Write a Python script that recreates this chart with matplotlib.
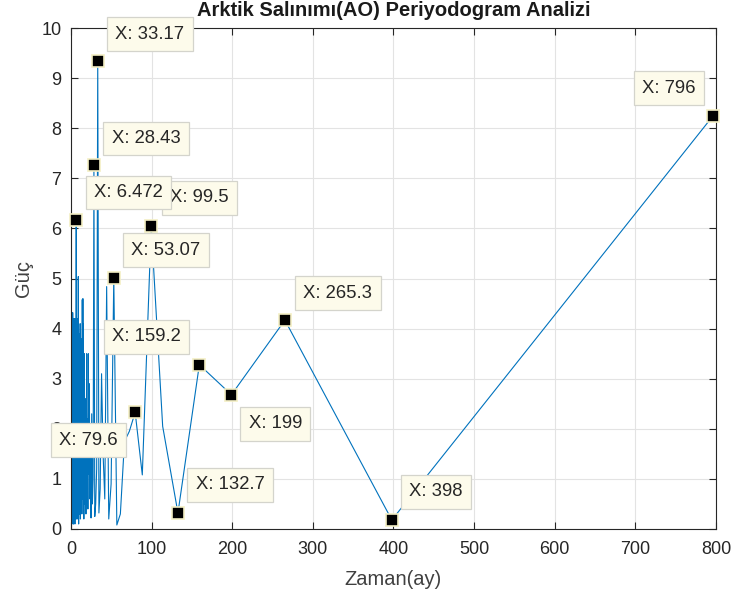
import numpy as np
import matplotlib
matplotlib.use("Agg")
import matplotlib.pyplot as plt

plt.rcParams['font.family'] = ['Liberation Sans', 'DejaVu Sans']

# periodogram power for harmonics k = 1 .. 398 of a 796-month record
n_months = 796
power = [
    8.24, 0.18, 4.17, 2.68, 3.28, 0.32, 2.05, 6.05, 1.08, 2.33,
    1.95, 1.75, 0.30, 0.08, 5.01, 0.90, 0.20, 4.84, 0.60, 1.50,
    3.10, 0.80, 0.32, 9.34, 1.20, 0.50, 0.25, 7.26, 1.00, 0.50,
    2.30, 0.22, 1.80, 0.60, 2.90, 1.10, 3.50, 0.40, 2.20, 0.90,
    3.50, 1.40, 0.30, 2.60, 0.70, 1.90, 0.50, 3.50, 1.20, 0.20,
    2.80, 4.10, 1.00, 4.60, 0.60, 3.00, 4.58, 1.50, 0.30, 2.40,
    1.2, 3.1, 0.4, 2.2, 3.8, 0.9, 1.6, 0.2, 2.7, 4.1, 1.0, 0.5, 3.3, 1.8, 0.3, 2.5, 3.9, 1.1, 0.6, 2.0,
    3.4, 0.8, 1.5, 0.1, 2.9, 4.0, 1.3, 5.04, 0.7, 2.3, 3.6, 0.4, 1.9, 2.8, 0.2, 3.7, 1.4, 0.9, 2.6, 4.2,
    0.5, 1.7, 3.2, 0.3, 2.1, 3.9, 1.0, 0.6, 2.4, 3.5, 0.8, 1.6, 4.0, 0.2, 2.7, 1.2, 3.3, 0.4, 1.8, 2.9,
    0.7, 3.6, 6.16, 1.1, 0.3, 2.5, 3.8, 0.9, 1.4, 2.2, 4.1, 0.5, 1.9, 3.0, 0.2, 2.6, 3.4, 1.0, 0.6, 2.0,
    3.7, 0.8, 1.5, 2.8, 0.3, 3.9, 1.2, 0.5, 2.3, 3.5, 0.9, 1.7, 4.0, 0.4, 2.1, 3.1, 1.3, 0.2, 2.7, 3.8,
    0.6, 1.8, 3.3, 0.1, 2.4, 4.2, 1.0, 0.7, 2.9, 3.6, 0.3, 1.6, 3.0, 0.8, 2.2, 3.9, 1.1, 0.5, 2.6, 3.4,
    0.2, 1.9, 3.7, 0.9, 1.4, 2.8, 4.1, 0.6, 2.0, 3.2, 0.4, 1.7, 3.5, 1.2, 0.3, 2.5, 3.8, 0.8, 1.5, 2.9,
    0.5, 3.6, 1.0, 0.2, 2.3, 4.0, 1.3, 0.7, 2.7, 3.3, 0.4, 1.8, 3.9, 0.9, 2.1, 3.0, 0.3, 1.6, 2.8, 4.2,
    1.1, 0.6, 2.4, 3.5, 0.2, 1.9, 3.7, 0.8, 1.4, 2.6, 4.1, 0.5, 2.0, 3.2, 1.2, 0.3, 2.9, 3.8, 0.7, 1.7,
    3.4, 0.4, 2.2, 3.9, 1.0, 0.6, 2.5, 3.6, 0.1, 1.5, 3.1, 0.9, 2.7, 4.0, 1.3, 0.5, 2.3, 3.3, 0.8, 1.8,
    3.7, 0.2, 2.0, 3.5, 1.1, 0.7, 2.8, 4.2, 0.4, 1.6, 3.0, 0.9, 2.4, 3.8, 1.2, 0.3, 2.6, 3.4, 0.6, 1.9,
    4.1, 0.5, 2.1, 3.2, 1.0, 0.2, 2.9, 3.6, 0.8, 1.4, 3.9, 0.4, 2.3, 3.0, 1.3, 0.6, 2.7, 4.0, 0.3, 1.7,
    3.3, 0.9, 2.2, 3.7, 1.1, 0.5, 2.5, 3.5, 0.2, 1.8, 4.2, 0.7, 2.0, 3.1, 1.2, 0.4, 2.8, 3.9, 0.6, 1.5,
    3.6, 0.3, 2.4, 4.1, 1.0, 0.8, 2.6, 3.2, 0.1, 1.9, 3.8, 0.5, 2.1, 3.4, 1.3, 0.6, 2.9, 4.0, 0.4, 1.6,
    3.0, 0.9, 2.3, 3.7, 1.1, 0.2, 2.7, 3.5, 0.7, 1.4, 4.2, 0.5, 2.0, 3.3, 1.2, 0.3, 2.5, 3.9, 0.8, 1.7,
    3.6, 0.4, 2.2, 4.1, 1.0, 0.6, 2.8, 3.4, 0.2, 1.9, 3.8, 0.9, 2.4, 3.1, 1.3, 0.5, 2.6, 4.0, 0.3, 4.32,
    1.5, 3.2, 0.7, 2.1, 3.7, 1.1, 0.4, 2.9, 3.5, 0.8, 1.6, 4.1, 0.6, 2.3, 3.0, 1.2, 0.2, 2.7,
]
harmonics = np.arange(1, len(power) + 1)
period = n_months / harmonics

# data tips: harmonic index and label offset (pixels)
tip_k = [8, 24, 28, 123, 15, 5, 10, 6, 4, 3, 2, 1]
tip_off = [(48, 28), (52, 27), (52, 27), (52, 28), (52, 28), (-53, 28),
           (-47, -28), (52, 28), (44, -29), (53, 27), (44, 28), (-44, 28)]

xticks = np.arange(0, 801, 100)
yticks = np.arange(0, 11, 1)

dark = '#262626'
fig = plt.figure(figsize=(7.32, 5.98), dpi=100)
ax = fig.add_axes([0.097, 0.1154, 0.881, 0.8375])

ax.plot(period, power, color='#0072BD', lw=0.8, zorder=2)

for k, (dx, dy) in zip(tip_k, tip_off):
    px, py = period[k - 1], power[k - 1]
    ax.plot(px, py, 's', ms=8.5, mfc='black', mec='#f3efc4', mew=1.2,
            zorder=5, clip_on=False)
    ax.annotate("X: {:.4g}".format(px), (px, py), xytext=(dx, dy),
                textcoords='offset pixels', ha='center', va='center',
                fontsize=13.3, color=dark, zorder=6, annotation_clip=False,
                bbox=dict(boxstyle='square,pad=0.45', fc='#fdfbeb',
                          ec='#d4d4cc', lw=0.9))

ax.set_xlim(0, 800)
ax.set_ylim(0, 10)
ax.set_xticks(xticks)
ax.set_yticks(yticks)
ax.grid(True, color='#e3e3e3', lw=0.8)
ax.set_axisbelow(True)
ax.tick_params(direction='in', length=5, width=0.8, colors=dark,
               labelsize=13, top=True, right=True, pad=7)
ax.tick_params(axis='x', pad=9)
for s in ax.spines.values():
    s.set_color(dark)
    s.set_linewidth(0.8)

ax.set_xlabel("Zaman(ay)", fontsize=14.5, color='#404040', labelpad=8)
ax.set_ylabel("Güç", fontsize=14.5, color='#404040', labelpad=6)
ax.set_title("Arktik Salınımı(AO) Periyodogram Analizi", fontsize=14.5,
             fontweight='bold', color='#1a1a1a', pad=9)

fig.savefig("out.png", dpi=100)
